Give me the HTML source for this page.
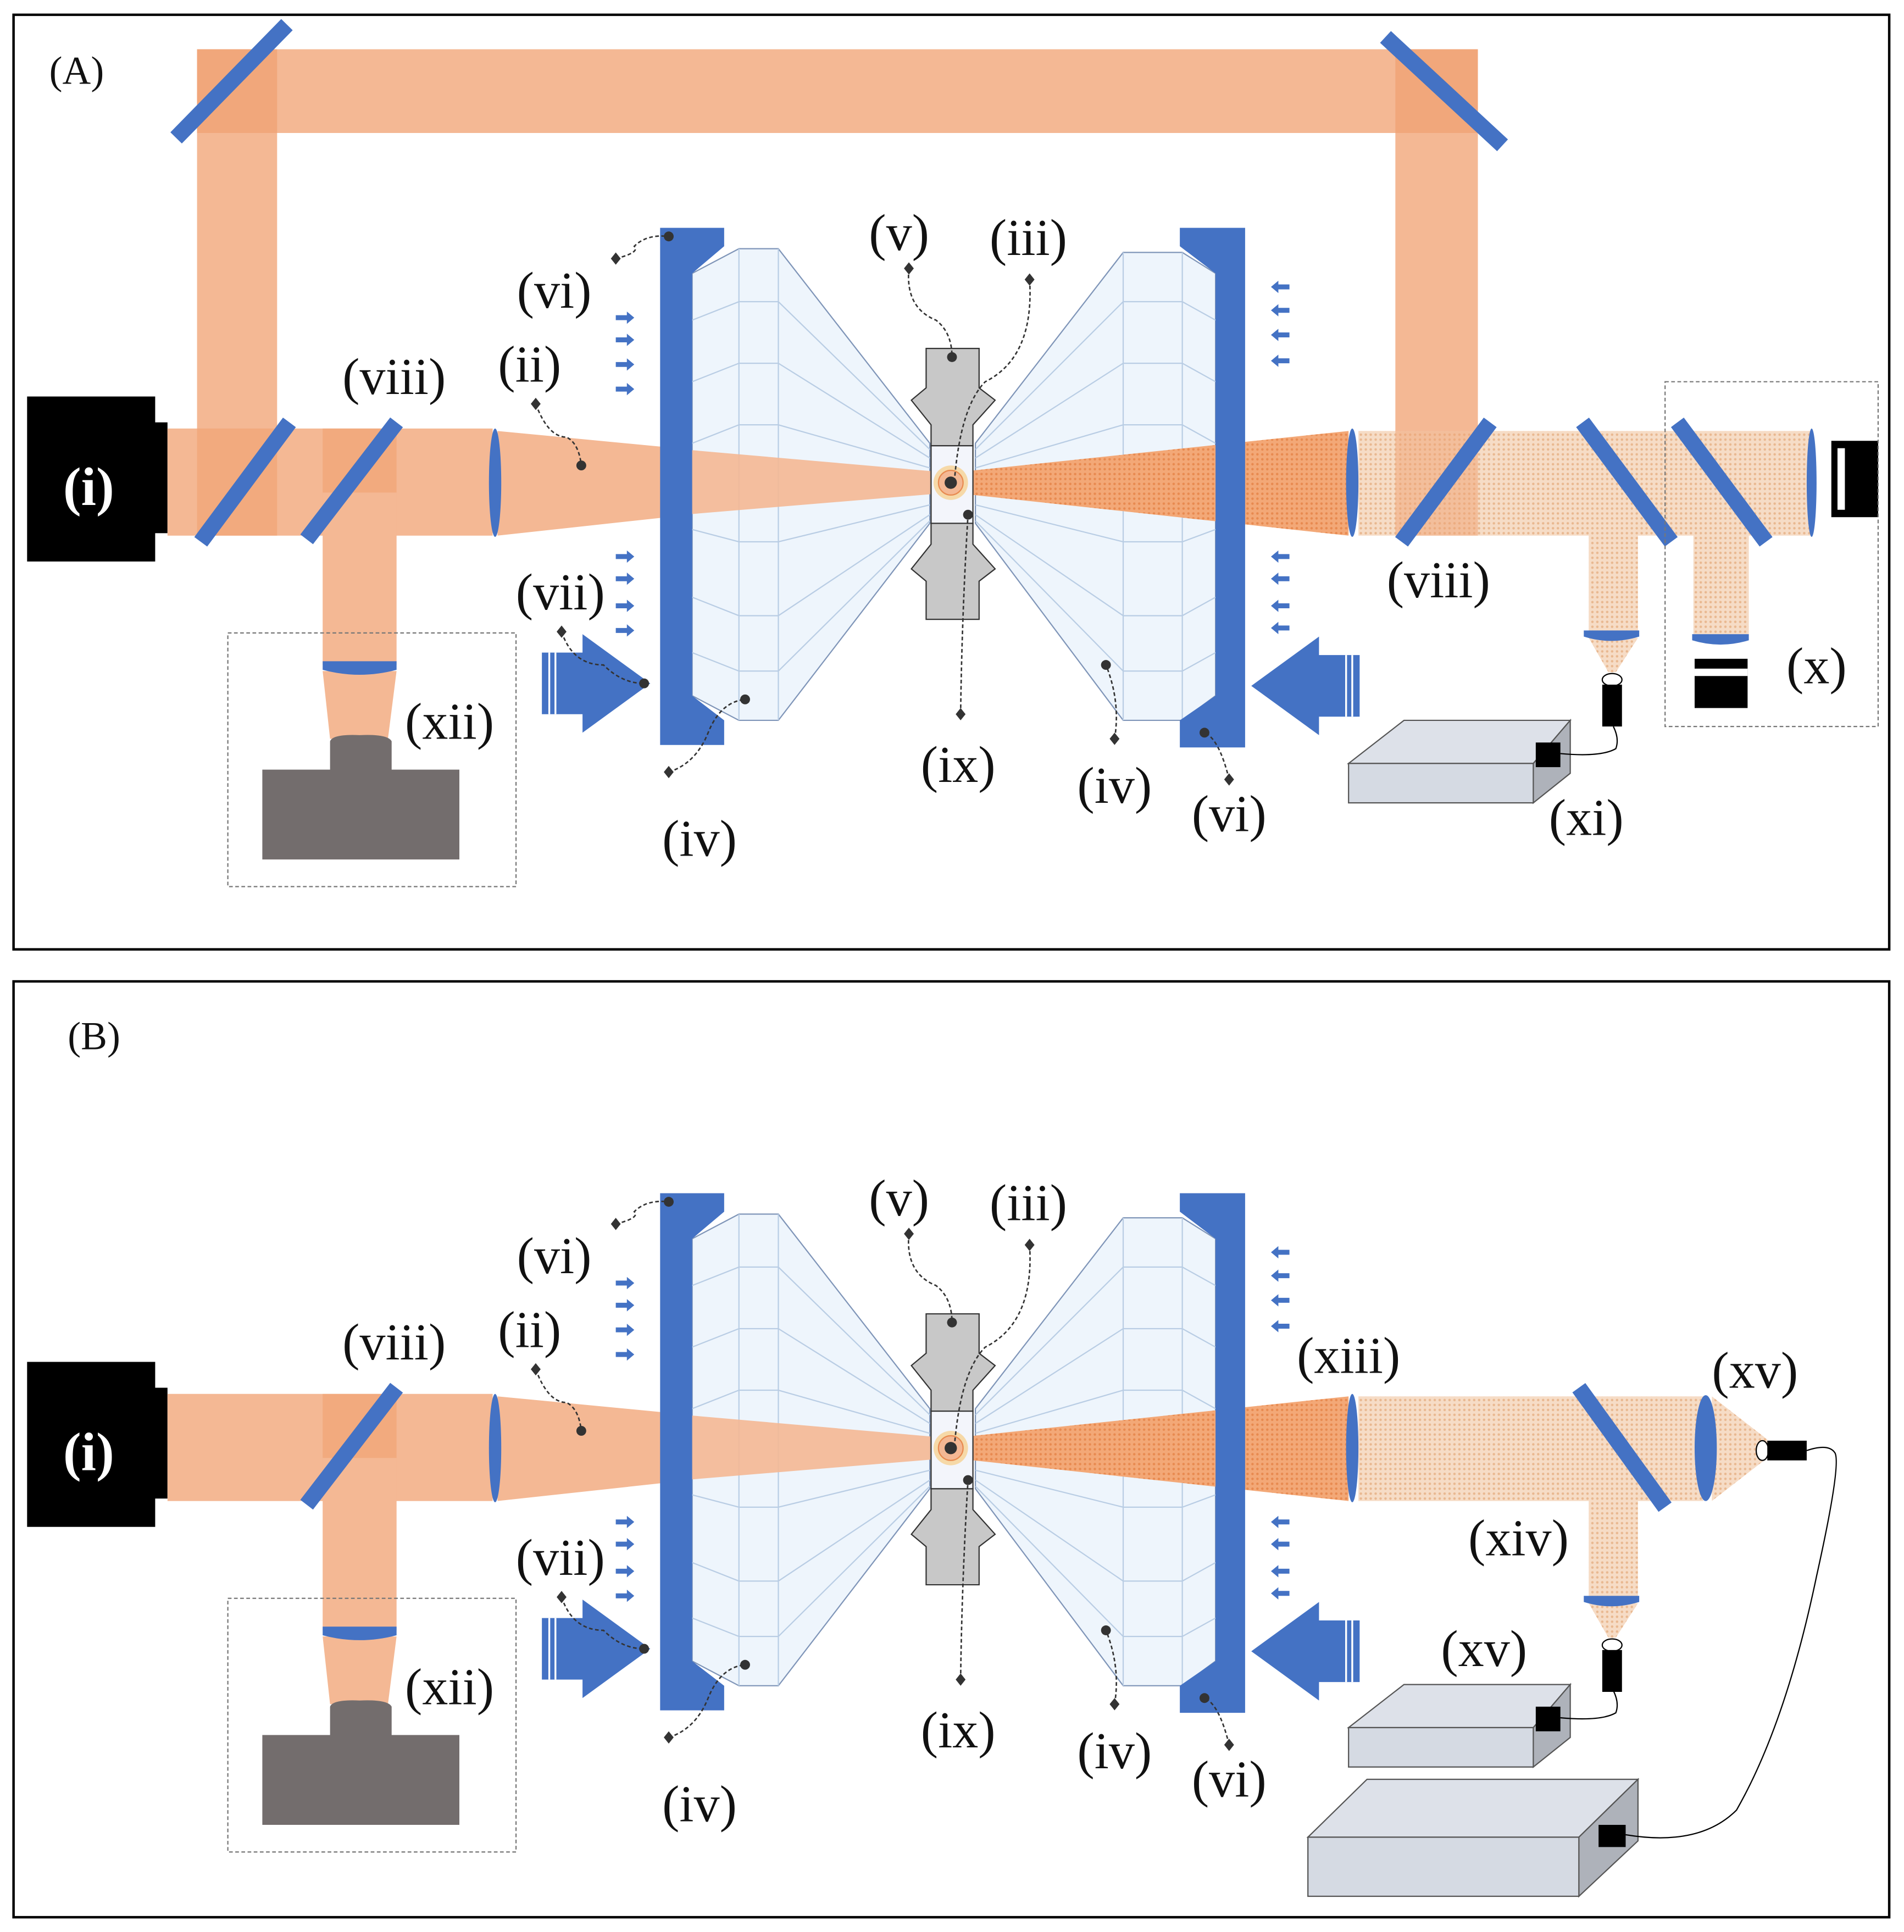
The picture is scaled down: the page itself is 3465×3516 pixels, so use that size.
<!DOCTYPE html>
<html><head><meta charset="utf-8"><style>
html,body{margin:0;padding:0;background:#fff;}
svg{display:block;}
text{font-family:"Liberation Serif","Times New Roman",serif;fill:#111;}
</style></head><body>
<svg width="3465" height="3516" viewBox="0 0 1546 1569" preserveAspectRatio="none" xmlns="http://www.w3.org/2000/svg">
<defs>
<pattern id="hd" width="4" height="4" patternUnits="userSpaceOnUse"><rect width="4" height="4" fill="#f3a877"/><circle cx="1" cy="1" r="1" fill="#e88a50"/></pattern>
<pattern id="hl" width="4" height="4" patternUnits="userSpaceOnUse"><rect width="4" height="4" fill="#f6dcc6"/><circle cx="1" cy="1" r="1" fill="#e9b890"/></pattern>
<g id="core">
  <rect x="22" y="322" width="104" height="134" fill="#000"/>
  <rect x="120" y="343" width="16" height="90" fill="#000"/>
  <rect x="136" y="348" width="264" height="87" fill="#f4b894"/>
  <rect x="262" y="348" width="60" height="87" fill="#f0a070" opacity="0.6"/>
  <rect x="262" y="400" width="60" height="140" fill="#f4b894"/>
  <polygon points="262,545 322,545 315,600 268,600" fill="#f4b894"/>
  <path d="M262,537 L322,537 L322,544 Q292,552 262,544 Z" fill="#4472c4"/>
  <path d="M268,602 Q270,596 292,597 Q315,596 318,602 L318,625 L373,625 L373,698 L213,698 L213,625 L268,625 Z" fill="#736d6d"/>
  <rect x="185" y="514" width="234" height="206" fill="none" stroke="#777" stroke-width="1" stroke-dasharray="3,2"/>
  <line x1="249" y1="438" x2="322" y2="343" stroke="#4472c4" stroke-width="13"/>
  <polygon points="404,350 404,435 560,418 560,365" fill="#f4b894"/>
  <ellipse cx="402" cy="392" rx="5" ry="44" fill="#4472c4"/>
  <polygon points="562,222 600,202 632,202 755,360 755,425 632,585 600,585 562,565" fill="#eef5fc" stroke="#7f95b8" stroke-width="1"/>
  <polygon points="987,222 960,205 912,205 792,360 792,425 912,585 960,585 987,565" fill="#eef5fc" stroke="#7f95b8" stroke-width="1"/>
  <g stroke="#b9cde4" stroke-width="1" fill="none">
    <line x1="600" y1="202" x2="600" y2="585"/><line x1="632" y1="202" x2="632" y2="585"/>
    <line x1="912" y1="205" x2="912" y2="585"/><line x1="960" y1="205" x2="960" y2="585"/>
    <polyline points="562,260 600,245 632,245 755,365"/><polyline points="562,310 600,295 632,295 755,372"/>
    <polyline points="562,360 600,345 632,345 755,380"/><polyline points="562,430 600,440 632,440 755,410"/>
    <polyline points="562,485 600,500 632,500 755,418"/><polyline points="562,530 600,545 632,545 755,423"/>
    <polyline points="987,260 960,245 912,245 792,365"/><polyline points="987,310 960,295 912,295 792,372"/>
    <polyline points="987,360 960,345 912,345 792,380"/><polyline points="987,430 960,440 912,440 792,410"/>
    <polyline points="987,485 960,500 912,500 792,418"/><polyline points="987,530 960,545 912,545 792,423"/>
  </g>
  <polygon points="555,365 555,418 772,400 772,384" fill="#f4b894" opacity="0.9"/>
  <polygon points="772,384 772,400 1095,435 1095,350" fill="url(#hd)"/>
  <polygon points="536,185 588,185 588,200 562,222 562,565 588,585 588,605 536,605" fill="#4472c4"/>
  <polygon points="1011,185 958,185 958,200 987,222 987,565 958,585 958,607 1011,607" fill="#4472c4"/>
  <polygon points="752,283 795,283 795,315 808,325 790,345 790,362 756,362 756,345 740,325 752,315" fill="#c8c8c8" stroke="#333" stroke-width="1"/>
  <polygon points="752,503 795,503 795,472 808,462 790,442 790,425 756,425 756,442 740,462 752,472" fill="#c8c8c8" stroke="#333" stroke-width="1"/>
  <rect x="756" y="362" width="34" height="63" fill="#f3f5fb" stroke="#333" stroke-width="1"/>
  <circle cx="772" cy="392" r="14" fill="#f6d9a8"/>
  <circle cx="772" cy="392" r="10" fill="#f4b894" stroke="#e88a50"/>
  <circle cx="772" cy="392" r="5" fill="#333"/>
  <g fill="#4472c4">
    <path d="M500,256h9v-3l6,5l-6,5v-3h-9z"/><path d="M500,274h9v-3l6,5l-6,5v-3h-9z"/><path d="M500,294h9v-3l6,5l-6,5v-3h-9z"/><path d="M500,314h9v-3l6,5l-6,5v-3h-9z"/>
    <path d="M500,450h9v-3l6,5l-6,5v-3h-9z"/><path d="M500,468h9v-3l6,5l-6,5v-3h-9z"/><path d="M500,490h9v-3l6,5l-6,5v-3h-9z"/><path d="M500,510h9v-3l6,5l-6,5v-3h-9z"/>
    <path d="M1047,231h-9v-3l-6,5l6,5v-3h9z"/><path d="M1047,250h-9v-3l-6,5l6,5v-3h9z"/><path d="M1047,270h-9v-3l-6,5l6,5v-3h9z"/><path d="M1047,291h-9v-3l-6,5l6,5v-3h9z"/>
    <path d="M1047,450h-9v-3l-6,5l6,5v-3h9z"/><path d="M1047,468h-9v-3l-6,5l6,5v-3h9z"/><path d="M1047,490h-9v-3l-6,5l6,5v-3h9z"/><path d="M1047,508h-9v-3l-6,5l6,5v-3h9z"/>
    <polygon points="440,530 473,530 473,515 528,555 473,595 473,580 440,580"/>
    <polygon points="1104,532 1071,532 1071,517 1016,557 1071,597 1071,582 1104,582"/>
  </g>
  <g stroke="#fff" stroke-width="1.5"><line x1="446" y1="530" x2="446" y2="580"/><line x1="451" y1="530" x2="451" y2="580"/><line x1="1098" y1="532" x2="1098" y2="582"/><line x1="1093" y1="532" x2="1093" y2="582"/></g>
  <g fill="none" stroke="#333" stroke-width="1.2" stroke-dasharray="3,2">
    <path d="M500,210 Q520,205 515,200 Q525,190 543,192"/>
    <path d="M435,328 Q445,355 460,355 Q470,360 472,378"/>
    <path d="M456,513 Q465,540 490,540 Q505,555 523,555"/>
    <path d="M543,627 Q565,620 575,595 Q585,570 605,568"/>
    <path d="M738,218 Q735,250 760,260 Q773,270 773,290"/>
    <path d="M836,227 Q840,290 800,310 Q780,330 775,390"/>
    <path d="M780,580 Q781,500 786,418"/>
    <path d="M905,600 Q910,570 898,540"/>
    <path d="M998,633 Q990,600 978,595"/>
  </g>
  <g fill="#333">
    <path d="M500,205l4,5l-4,5l-4,-5z"/><circle cx="543" cy="192" r="4"/>
    <path d="M435,323l4,5l-4,5l-4,-5z"/><circle cx="472" cy="378" r="4"/>
    <path d="M456,508l4,5l-4,5l-4,-5z"/><circle cx="523" cy="555" r="4"/>
    <path d="M543,622l4,5l-4,5l-4,-5z"/><circle cx="605" cy="568" r="4"/>
    <path d="M738,213l4,5l-4,5l-4,-5z"/><circle cx="773" cy="290" r="4"/>
    <path d="M836,222l4,5l-4,5l-4,-5z"/>
    <path d="M780,575l4,5l-4,5l-4,-5z"/><circle cx="786" cy="418" r="4"/>
    <path d="M905,595l4,5l-4,5l-4,-5z"/><circle cx="898" cy="540" r="4"/>
    <path d="M998,628l4,5l-4,5l-4,-5z"/><circle cx="978" cy="595" r="4"/>
  </g>
</g>
<g id="box1">
  <polygon points="1095,620 1140,585 1275,585 1245,620" fill="#dde1e9" stroke="#555"/>
  <polygon points="1245,620 1275,585 1275,628 1245,652" fill="#aeb2ba" stroke="#555"/>
  <rect x="1095" y="620" width="150" height="32" fill="#d5dae3" stroke="#555"/>
  <rect x="1247" y="603" width="20" height="20" fill="#000"/>
</g>
</defs>

<rect x="11" y="12" width="1523" height="759" fill="none" stroke="#000" stroke-width="2"/>
<rect x="160" y="75" width="65" height="275" fill="#f4b894"/>
<rect x="160" y="40" width="1040" height="68" fill="#f4b894"/>
<rect x="1133" y="75" width="67" height="320" fill="#f4b894"/>
<polygon points="160,40 225,40 225,108 160,108" fill="#f0a070" opacity="0.7"/>
<polygon points="1133,40 1200,40 1200,108 1133,108" fill="#f0a070" opacity="0.7"/>
<use href="#core"/>
<rect x="160" y="348" width="65" height="87" fill="#f0a070" opacity="0.6"/>
<line x1="163" y1="440" x2="235" y2="343" stroke="#4472c4" stroke-width="13"/>
<line x1="143" y1="112" x2="233" y2="20" stroke="#4472c4" stroke-width="13"/>
<line x1="1125" y1="30" x2="1220" y2="118" stroke="#4472c4" stroke-width="13"/>
<rect x="1103" y="350" width="367" height="85" fill="url(#hl)"/>
<rect x="1133" y="350" width="67" height="85" fill="#f0a070" opacity="0.5"/>
<ellipse cx="1098" cy="392" rx="5" ry="44" fill="#4472c4"/>
<rect x="1290" y="400" width="40" height="113" fill="url(#hl)"/>
<polygon points="1290,518 1330,518 1312,546 1306,546" fill="url(#hl)"/>
<rect x="1375" y="400" width="45" height="115" fill="url(#hl)"/>
<line x1="1138" y1="440" x2="1210" y2="343" stroke="#4472c4" stroke-width="13"/>
<line x1="1285" y1="343" x2="1357" y2="440" stroke="#4472c4" stroke-width="13"/>
<line x1="1362" y1="343" x2="1434" y2="440" stroke="#4472c4" stroke-width="13"/>
<ellipse cx="1471" cy="392" rx="4" ry="44" fill="#4472c4"/>
<rect x="1487" y="358" width="38" height="62" fill="#000"/><rect x="1492" y="364" width="6" height="50" fill="#fff"/>
<path d="M1286,512 L1331,512 L1331,517 Q1308,524 1286,517 Z" fill="#4472c4"/>
<path d="M1374,515 L1420,515 L1420,520 Q1397,527 1374,520 Z" fill="#4472c4"/>
<rect x="1376" y="535" width="43" height="40" fill="#000"/><rect x="1376" y="543" width="43" height="6" fill="#fff"/>
<ellipse cx="1309" cy="552" rx="8" ry="5" fill="#fff" stroke="#000"/>
<rect x="1301" y="556" width="16" height="34" fill="#000"/>
<use href="#box1"/>
<path d="M1267,612 Q1300,615 1312,608 Q1315,600 1310,590" fill="none" stroke="#000"/>
<rect x="1352" y="310" width="173" height="280" fill="none" stroke="#777" stroke-dasharray="3,2"/>

<text x="40" y="68" font-size="32" font-family="Liberation Serif, serif">(A)</text>
<text x="72" y="410" font-size="44" font-weight="bold" text-anchor="middle" style="fill:#fff">(i)</text>
<g font-size="42" text-anchor="middle">
<text x="450" y="250">(vi)</text><text x="430" y="310">(ii)</text><text x="320" y="320">(viii)</text>
<text x="455" y="495">(vii)</text><text x="365" y="600">(xii)</text><text x="568" y="695">(iv)</text>
<text x="730" y="203">(v)</text><text x="835" y="207">(iii)</text><text x="778" y="635">(ix)</text>
<text x="905" y="652">(iv)</text><text x="998" y="675">(vi)</text><text x="1168" y="485">(viii)</text>
<text x="1475" y="555">(x)</text><text x="1288" y="678">(xi)</text>
</g>

<rect x="11" y="797" width="1523" height="760" fill="none" stroke="#000" stroke-width="2"/>
<g transform="translate(0,784)">
<use href="#core"/>
<rect x="1103" y="350" width="280" height="85" fill="url(#hl)"/>
<polygon points="1390,350 1390,435 1435,400 1435,385" fill="url(#hl)"/>
<ellipse cx="1098" cy="392" rx="5" ry="44" fill="#4472c4"/>
<rect x="1290" y="400" width="40" height="113" fill="url(#hl)"/>
<polygon points="1290,518 1330,518 1312,546 1306,546" fill="url(#hl)"/>
<line x1="1282" y1="343" x2="1352" y2="440" stroke="#4472c4" stroke-width="13"/>
<ellipse cx="1385" cy="392" rx="9" ry="43" fill="#4472c4"/>
<ellipse cx="1431" cy="394" rx="5" ry="8" fill="#fff" stroke="#000"/>
<rect x="1435" y="386" width="32" height="16" fill="#000"/>
<path d="M1286,512 L1331,512 L1331,517 Q1308,524 1286,517 Z" fill="#4472c4"/>
<ellipse cx="1309" cy="552" rx="8" ry="5" fill="#fff" stroke="#000"/>
<rect x="1301" y="556" width="16" height="34" fill="#000"/>
</g>
<g transform="translate(0,783)">
<use href="#box1"/>
</g>
<path d="M1267,1395 Q1300,1398 1312,1391 Q1315,1383 1310,1373" fill="none" stroke="#000"/>
<g>
<polygon points="1062,1492 1110,1445 1330,1445 1282,1492" fill="#dde1e9" stroke="#555"/>
<polygon points="1282,1492 1330,1445 1330,1495 1282,1540" fill="#aeb2ba" stroke="#555"/>
<rect x="1062" y="1492" width="220" height="48" fill="#d5dae3" stroke="#555"/>
<rect x="1298" y="1482" width="22" height="18" fill="#000"/>
<path d="M1320,1490 Q1380,1500 1410,1470 Q1450,1400 1475,1280 Q1495,1190 1490,1180 Q1485,1172 1467,1178" fill="none" stroke="#000"/>
</g>
<text x="55" y="852" font-size="32">(B)</text>
<text x="72" y="1194" font-size="44" font-weight="bold" text-anchor="middle" style="fill:#fff">(i)</text>
<g font-size="42" text-anchor="middle" transform="translate(0,784)">
<text x="450" y="250">(vi)</text><text x="430" y="310">(ii)</text><text x="320" y="320">(viii)</text>
<text x="455" y="495">(vii)</text><text x="365" y="600">(xii)</text><text x="568" y="695">(iv)</text>
<text x="730" y="203">(v)</text><text x="835" y="207">(iii)</text><text x="778" y="635">(ix)</text>
<text x="905" y="652">(iv)</text><text x="998" y="675">(vi)</text>
<text x="1095" y="331">(xiii)</text><text x="1425" y="343">(xv)</text><text x="1233" y="479">(xiv)</text><text x="1205" y="569">(xv)</text>
</g>
</svg>
</body></html>
